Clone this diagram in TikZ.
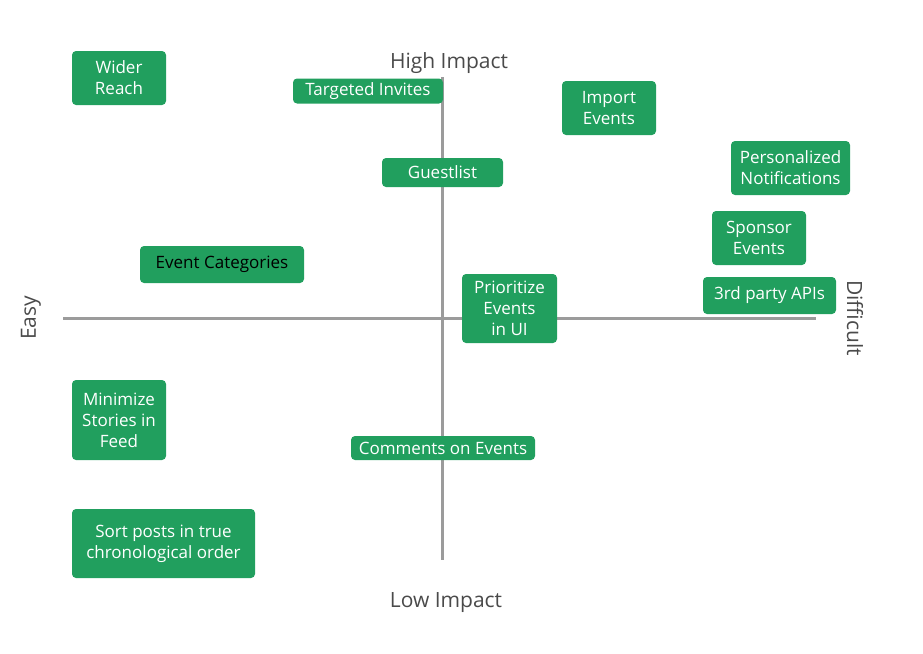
\documentclass[tikz,border=0pt]{standalone}
\usepackage{fontspec}
\setmainfont{Open Sans}
\definecolor{boxgreen}{HTML}{219F5E}
\definecolor{axisgray}{HTML}{9B9B9B}
\definecolor{labelgray}{HTML}{4A4A4A}
\begin{document}
\begin{tikzpicture}[x=1pt,y=-1pt,
  card/.style={fill=boxgreen, rounded corners=4pt, text=white, align=center,
    inner sep=0pt, font=\fontsize{17}{21}\selectfont},
  axislabel/.style={text=labelgray, font=\fontsize{21}{24}\selectfont},
  axisline/.style={draw=axisgray, line width=3pt}]
\useasboundingbox (0,0) rectangle (923,653);
\coordinate (hl) at (63,318);
\coordinate (hr) at (816,318);
\coordinate (vt) at (442,77);
\coordinate (vb) at (442,560);
\draw[axisline] (hl) -- (hr);
\draw[axisline] (vt) -- (vb);
\node[axislabel] (high) at (449,63) {High Impact};
\node[axislabel] (low) at (446,603) {Low Impact};
\node[axislabel, rotate=90] (easy) at (31,318) {Easy};
\node[axislabel, rotate=-90] (diff) at (855,318) {Difficult};
% cards: center, width, height
\node[card, minimum width=94pt, minimum height=54pt] (wider) at (119,78) {Wider\\Reach};
\node[card, minimum width=150pt, minimum height=25pt] (targeted) at (368,91) {Targeted Invites};
\node[card, minimum width=121pt, minimum height=29pt] (guest) at (442.5,172.5) {Guestlist};
\node[card, minimum width=164pt, minimum height=37pt, text=black] (cat) at (222,264.5) {Event Categories};
\node[card, minimum width=94pt, minimum height=54pt] (import) at (609,108) {Import\\Events};
\node[card, minimum width=119pt, minimum height=54pt] (pers) at (790.5,168) {Personalized\\Notifications};
\node[card, minimum width=94pt, minimum height=54pt] (sponsor) at (759,238) {Sponsor\\Events};
\node[card, minimum width=133pt, minimum height=37pt] (apis) at (769.5,295.5) {3rd party APIs};
\node[card, minimum width=95pt, minimum height=69pt] (prio) at (509.5,308.5) {Prioritize\\Events\\in UI};
\node[card, minimum width=94pt, minimum height=80pt] (mini) at (119,420) {Minimize\\Stories in\\Feed};
\node[card, minimum width=184pt, minimum height=24pt] (comments) at (443,448) {Comments on Events};
\node[card, minimum width=183pt, minimum height=69pt] (sort) at (163.5,543.5) {Sort posts in true\\chronological order};
\end{tikzpicture}
\end{document}
